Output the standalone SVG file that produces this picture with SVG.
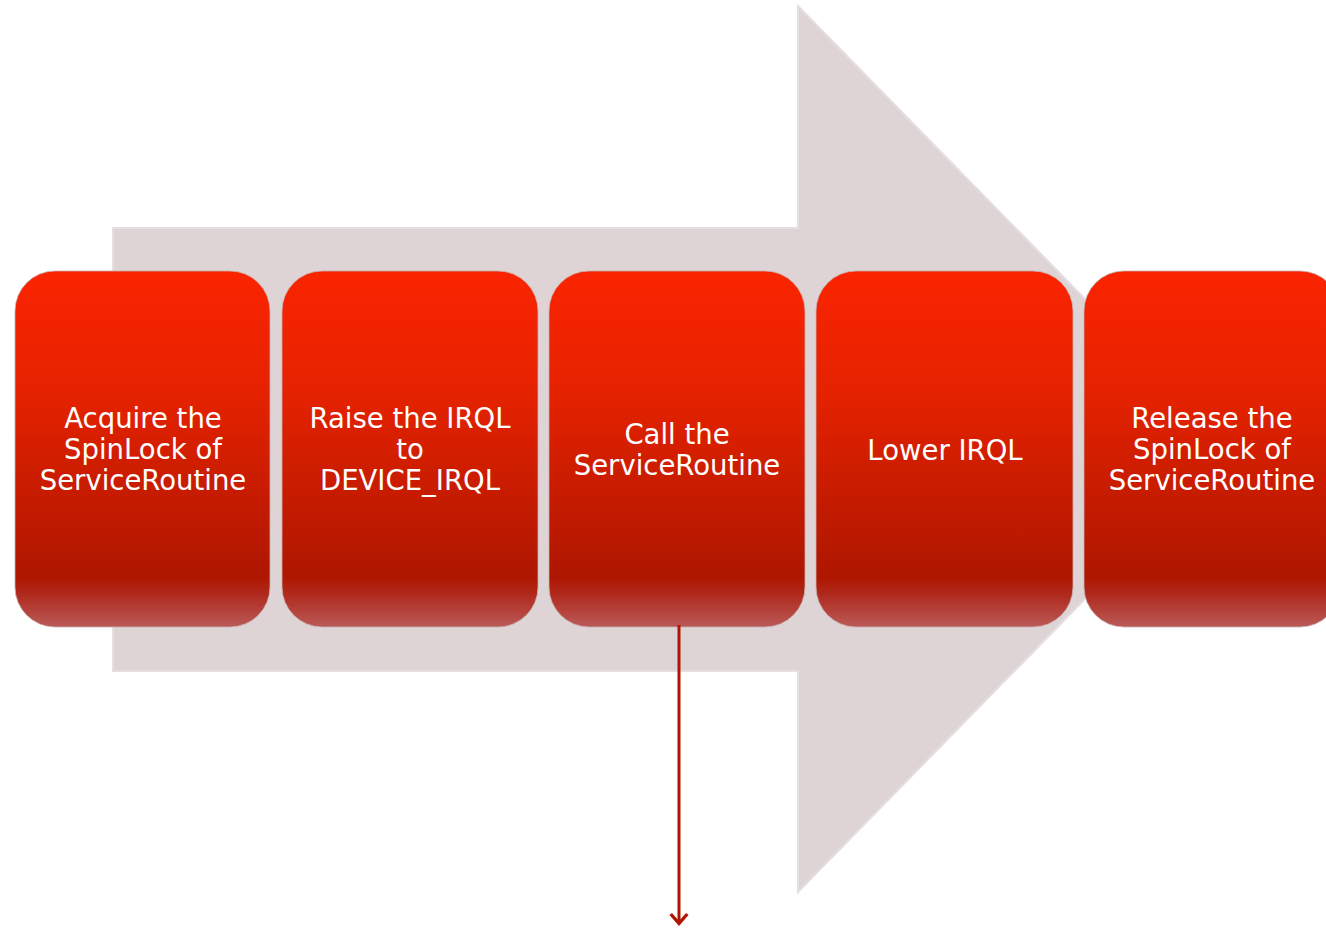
<svg xmlns="http://www.w3.org/2000/svg" width="1326" height="928" viewBox="0 0 1326 928">
<defs>
<linearGradient id="boxg" x1="0" y1="0" x2="0" y2="1">
<stop offset="0" stop-color="#FB2400"/>
<stop offset="0.35" stop-color="#E42200"/>
<stop offset="0.86" stop-color="#AE1600"/>
<stop offset="0.91" stop-color="#B02A1E"/>
<stop offset="1" stop-color="#BA5A58"/>
</linearGradient>
<marker id="chev" markerWidth="16" markerHeight="20" refX="12" refY="9" orient="auto" markerUnits="userSpaceOnUse" viewBox="0 0 14 18">
<path d="M3,1.5 L11.5,9 L3,16.5" fill="none" stroke="#AE1600" stroke-width="3"/>
</marker>
</defs>
<style>
.box{fill:url(#boxg);stroke:#C8B0B0;stroke-width:0.8}
.t{font-family:"DejaVu Sans","Liberation Sans",sans-serif;font-size:27.5px;fill:#ffffff;text-anchor:middle;font-weight:normal}
</style>
<g id="bigarrow">
<polygon points="113,228 798,228 798,6 1232,449 798,892 798,671 113,671" fill="#DFD4D5" stroke="#E6DEDF" stroke-width="2"/>
</g>
<g id="n1">
<rect class="box" x="15" y="271" width="255" height="356" rx="40"/>
<text class="t" x="143" y="428">Acquire the</text>
<text class="t" x="143" y="459">SpinLock of</text>
<text class="t" x="143" y="490">ServiceRoutine</text>
</g>
<g id="n2">
<rect class="box" x="282" y="271" width="256" height="356" rx="40"/>
<text class="t" x="410" y="428">Raise the IRQL</text>
<text class="t" x="410" y="459">to</text>
<text class="t" x="410" y="490">DEVICE_IRQL</text>
</g>
<g id="n3">
<rect class="box" x="549" y="271" width="256" height="356" rx="40"/>
<text class="t" x="677" y="444">Call the</text>
<text class="t" x="677" y="475">ServiceRoutine</text>
</g>
<g id="n4">
<rect class="box" x="816" y="271" width="257" height="356" rx="40"/>
<text class="t" x="945" y="460">Lower IRQL</text>
</g>
<g id="n5">
<rect class="box" x="1084" y="271" width="256" height="356" rx="40"/>
<text class="t" x="1212" y="428">Release the</text>
<text class="t" x="1212" y="459">SpinLock of</text>
<text class="t" x="1212" y="490">ServiceRoutine</text>
</g>
<g id="connectors">
<line x1="679" y1="625" x2="679" y2="924" stroke="#AE1600" stroke-width="3" marker-end="url(#chev)"/>
</g>
</svg>
